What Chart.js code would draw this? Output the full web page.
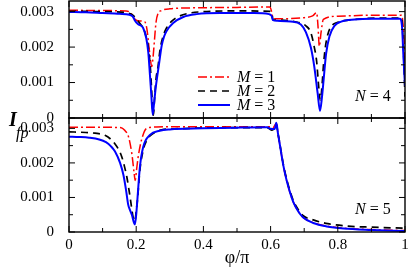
<!DOCTYPE html>
<html><head><meta charset="utf-8">
<script src="https://cdn.jsdelivr.net/npm/chart.js@4/dist/chart.umd.min.js"></script>
<style>
html,body{margin:0;padding:0;background:#fff;}
#wrap{position:relative;width:409px;height:270px;overflow:hidden;background:#fff;}
canvas{position:absolute;left:0;}
#c1{top:0;} #c2{top:114px;}
.lab{position:absolute;font-family:'Liberation Serif','Times New Roman',serif;color:#000;line-height:1;white-space:nowrap;}
</style></head><body>
<div id="wrap">
<canvas id="c1" width="409" height="130"></canvas>
<canvas id="c2" width="409" height="156"></canvas>
<div class="lab" style="left:9px;top:109px;font-size:20px;font-style:italic;font-weight:bold;">I</div>
<div class="lab" style="left:16px;top:125px;font-size:16px;font-style:italic;">fp</div>
</div>
<script>
// ---- tick labels ----
const xTickValues = [0, 0.2, 0.4, 0.6, 0.8, 1];
const xTickLabels = ['0', '0.2', '0.4', '0.6', '0.8', '1'];
const xMinorTicks = [0.1, 0.3, 0.5, 0.7, 0.9];
const yTickValues = [0, 0.001, 0.002, 0.003];
const yTickLabels = ['0', '0.001', '0.002', '0.003'];
const yMinorTicks = [0.0005, 0.0015, 0.0025];
const yMax = 0.0033;
const xTitle = 'φ/π';
const legendLabels = ['M = 1', 'M = 2', 'M = 3'];
const panelLabels = ['N = 4', 'N = 5'];

// ---- N = 4 (top panel) ----
const phiN4M1 = [0, 0.1, 0.17, 0.185, 0.195, 0.205, 0.225, 0.232, 0.238, 0.243, 0.246, 0.25, 0.254, 0.259, 0.265, 0.275, 0.3, 0.4, 0.5, 0.598, 0.603, 0.608, 0.63, 0.7, 0.725, 0.737, 0.741, 0.745, 0.75, 0.757, 0.8, 0.9, 0.99, 0.996, 1.0];
const valN4M1 = [0.00304, 0.00303, 0.00302, 0.00295, 0.0028, 0.00274, 0.00272, 0.0025, 0.002, 0.0016, 0.00145, 0.0017, 0.00215, 0.0027, 0.00295, 0.00303, 0.00308, 0.00311, 0.00312, 0.00313, 0.003, 0.0028, 0.0028, 0.00283, 0.00288, 0.00297, 0.0026, 0.00202, 0.0024, 0.00278, 0.00287, 0.0029, 0.0029, 0.0024, 0.0016];

const phiN4M2 = [0, 0.1, 0.17, 0.19, 0.2, 0.21, 0.22, 0.228, 0.236, 0.243, 0.247, 0.251, 0.255, 0.259, 0.265, 0.271, 0.28, 0.288, 0.306, 0.33, 0.36, 0.4, 0.5, 0.598, 0.603, 0.608, 0.63, 0.68, 0.705, 0.72, 0.73, 0.737, 0.743, 0.748, 0.753, 0.757, 0.763, 0.77, 0.78, 0.8, 0.85, 0.95, 0.99, 0.995, 1.0];
const valN4M2 = [0.00301, 0.003, 0.00297, 0.0029, 0.0028, 0.00268, 0.00255, 0.00235, 0.002, 0.0013, 0.0006, 0.00008, 0.0006, 0.0011, 0.00145, 0.00193, 0.0023, 0.0025, 0.00273, 0.00288, 0.00296, 0.003, 0.00302, 0.00301, 0.00295, 0.00276, 0.00276, 0.0027, 0.0026, 0.0024, 0.002, 0.0016, 0.0009, 0.0005, 0.0009, 0.00145, 0.002, 0.00235, 0.00258, 0.0027, 0.00278, 0.00282, 0.00282, 0.002, 0.0006];

const phiN4M3 = [0, 0.05, 0.1, 0.15, 0.18, 0.19, 0.196, 0.205, 0.22, 0.23, 0.236, 0.241, 0.245, 0.249, 0.253, 0.258, 0.263, 0.269, 0.276, 0.283, 0.29, 0.31, 0.34, 0.38, 0.45, 0.55, 0.595, 0.603, 0.607, 0.62, 0.66, 0.69, 0.705, 0.72, 0.73, 0.74, 0.747, 0.753, 0.758, 0.765, 0.775, 0.79, 0.81, 0.85, 0.9, 0.985, 0.991, 0.995, 1.0];
const valN4M3 = [0.00299, 0.00298, 0.00296, 0.00294, 0.00291, 0.00286, 0.00275, 0.00265, 0.00255, 0.00225, 0.00185, 0.0012, 0.00065, 0.0001, 0.0004, 0.00085, 0.0012, 0.0016, 0.00205, 0.0023, 0.00245, 0.00268, 0.00285, 0.00293, 0.00296, 0.00296, 0.00293, 0.00288, 0.00276, 0.00274, 0.00272, 0.00264, 0.00242, 0.00198, 0.00145, 0.0007, 0.0002, 0.0006, 0.0011, 0.0018, 0.0023, 0.0026, 0.00272, 0.00278, 0.0028, 0.0028, 0.0026, 0.0018, 0.0009];

// ---- N = 5 (bottom panel) ----
const phiN5M1 = [0, 0.1, 0.155, 0.165, 0.177, 0.187, 0.194, 0.197, 0.201, 0.206, 0.216, 0.231, 0.26, 0.35, 0.5, 0.598, 0.607, 0.617, 0.622, 0.628, 0.638, 0.648, 0.658, 0.668, 0.682, 0.697, 0.727, 0.767, 0.817, 0.9, 1.0];
const valN5M1 = [0.00303, 0.00303, 0.00302, 0.00295, 0.00276, 0.00227, 0.00169, 0.00149, 0.0018, 0.00218, 0.00267, 0.003, 0.00304, 0.00305, 0.00305, 0.00305, 0.00302, 0.00314, 0.00285, 0.0025, 0.00192, 0.00148, 0.00113, 0.00086, 0.0006, 0.00042, 0.00027, 0.00017, 0.00011, 0.00007, 0.00004];

const phiN5M2 = [0, 0.05, 0.077, 0.107, 0.125, 0.137, 0.147, 0.157, 0.165, 0.172, 0.182, 0.191, 0.196, 0.2, 0.204, 0.211, 0.221, 0.231, 0.241, 0.276, 0.3, 0.4, 0.5, 0.59, 0.603, 0.612, 0.617, 0.622, 0.628, 0.638, 0.648, 0.658, 0.668, 0.682, 0.697, 0.727, 0.77, 0.83, 0.9, 1.0];
const valN5M2 = [0.0029, 0.00288, 0.00286, 0.0028, 0.00268, 0.00255, 0.0024, 0.00218, 0.0019, 0.0016, 0.001, 0.00042, 0.00032, 0.0006, 0.00095, 0.00179, 0.00238, 0.00265, 0.00278, 0.00296, 0.00298, 0.00301, 0.00302, 0.00302, 0.00295, 0.003, 0.00312, 0.00285, 0.00252, 0.00195, 0.00152, 0.00118, 0.0009, 0.00065, 0.00047, 0.00035, 0.00024, 0.00017, 0.00014, 0.00011];

const phiN5M3 = [0, 0.03, 0.06, 0.09, 0.11, 0.125, 0.137, 0.152, 0.162, 0.17, 0.176, 0.181, 0.187, 0.196, 0.2, 0.204, 0.211, 0.221, 0.241, 0.27, 0.3, 0.4, 0.5, 0.59, 0.6, 0.612, 0.617, 0.622, 0.628, 0.638, 0.648, 0.658, 0.668, 0.682, 0.697, 0.727, 0.767, 0.817, 0.9, 1.0];
const valN5M3 = [0.00276, 0.00275, 0.00273, 0.00268, 0.0026, 0.00248, 0.00233, 0.002, 0.00165, 0.0012, 0.0008, 0.00065, 0.0005, 0.00022, 0.0005, 0.001, 0.00188, 0.00247, 0.00281, 0.00293, 0.00297, 0.003, 0.00302, 0.00303, 0.00299, 0.00298, 0.00316, 0.00285, 0.0025, 0.00192, 0.00148, 0.00114, 0.00086, 0.0006, 0.00042, 0.00026, 0.00016, 0.0001, 0.00006, 0.00003];

// ---- styles ----
const styles = [
  {color:'#ff0000', width:1.5, dash:[9,3,2,3], order:3},
  {color:'#000000', width:1.7, dash:[7,5], order:2},
  {color:'#0000ff', width:2, dash:[], order:1}
];

Chart.defaults.font.family = "'Liberation Serif','Times New Roman',serif";
Chart.defaults.font.size = 15;
Chart.defaults.color = '#000';

function drawVarText(ctx, text, x, y, size) {
  const v = text.charAt(0), rest = text.slice(1);
  ctx.font = 'italic ' + size + "px 'Liberation Serif'";
  ctx.fillText(v, x, y);
  const w = ctx.measureText(v).width;
  ctx.font = size + "px 'Liberation Serif'";
  ctx.fillText(rest, x + w, y);
}

const framePlugin = {
  id: 'frame',
  afterDatasetsDraw(chart, args, opts) {
    const ctx = chart.ctx, a = chart.chartArea, x = chart.scales.x, y = chart.scales.y;
    ctx.save();
    ctx.strokeStyle = '#000';
    ctx.lineWidth = 1;
    ctx.setLineDash([]);
    ctx.beginPath();
    const xt = (v, L) => { const p = x.getPixelForValue(v); ctx.moveTo(p, a.bottom); ctx.lineTo(p, a.bottom - L); ctx.moveTo(p, a.top); ctx.lineTo(p, a.top + L); };
    const yt = (v, L) => { const p = y.getPixelForValue(v); ctx.moveTo(a.left, p); ctx.lineTo(a.left + L, p); ctx.moveTo(a.right, p); ctx.lineTo(a.right - L, p); };
    xTickValues.forEach(v => xt(v, 6));
    xMinorTicks.forEach(v => xt(v, 4));
    yTickValues.forEach(v => yt(v, 6));
    yMinorTicks.forEach(v => yt(v, 4));
    ctx.stroke();
    ctx.lineWidth = 1.4;
    ctx.strokeRect(a.left, a.top, a.right - a.left, a.bottom - a.top);
    ctx.fillStyle = '#000';
    ctx.textBaseline = 'middle';
    ctx.textAlign = 'left';
    if (opts.legend) {
      chart.data.datasets.forEach((ds, i) => {
        const ly = opts.legendY[i];
        ctx.beginPath();
        ctx.strokeStyle = ds.borderColor;
        ctx.lineWidth = ds.borderWidth;
        ctx.setLineDash(ds.borderDash);
        ctx.moveTo(opts.legendX, ly);
        ctx.lineTo(opts.legendX + 32, ly);
        ctx.stroke();
        ctx.setLineDash([]);
        ctx.fillStyle = '#000';
        drawVarText(ctx, legendLabels[i], opts.legendX + 39, ly + 1, 16);
      });
    }
    if (opts.note) drawVarText(ctx, opts.note, opts.noteX, opts.noteY, 16);
    ctx.restore();
  }
};

function makeChart(id, series, o) {
  return new Chart(document.getElementById(id), {
    type: 'line',
    data: { datasets: series.map((s, i) => ({
      label: legendLabels[i],
      data: s.phi.map((p, k) => ({x: p, y: s.val[k]})),
      borderColor: styles[i].color, borderWidth: styles[i].width, borderDash: styles[i].dash,
      order: styles[i].order, pointRadius: 0, fill: false, cubicInterpolationMode: 'monotone'
    })) },
    options: {
      responsive: false, animation: false, devicePixelRatio: 1,
      layout: { padding: { left: 0, right: 4, top: o.padTop, bottom: 0 } },
      plugins: { legend: { display: false }, tooltip: { enabled: false }, frame: o.frame },
      scales: {
        x: {
          type: 'linear', min: 0, max: 1,
          grid: { display: false }, border: { display: false },
          afterBuildTicks: s => { s.ticks = xTickValues.map(v => ({value: v})); },
          ticks: { display: o.showX, padding: -4, autoSkip: false, maxRotation: 0, color: '#000',
                   callback: (v, i) => xTickLabels[i] },
          title: { display: o.showX, text: xTitle, color: '#000', font: { size: 18 }, padding: { top: 0, bottom: 1 } },
          afterFit: s => { s.height = o.xHeight; s.paddingLeft = 0; s.paddingRight = 0; }
        },
        y: {
          type: 'linear', min: 0, max: yMax,
          grid: { display: false }, border: { display: false },
          afterBuildTicks: s => { s.ticks = yTickValues.map(v => ({value: v})); },
          ticks: { padding: 7, autoSkip: false, color: '#000', callback: (v, i) => yTickLabels[i] },
          afterFit: s => { s.width = 69; s.paddingTop = 0; s.paddingBottom = 0; }
        }
      }
    },
    plugins: [framePlugin]
  });
}

makeChart('c1', [
  {phi: phiN4M1, val: valN4M1}, {phi: phiN4M2, val: valN4M2}, {phi: phiN4M3, val: valN4M3}
], { padTop: 1, xHeight: 12, showX: false,
     frame: { legend: true, legendX: 198, legendY: [77, 91, 105], note: panelLabels[0], noteX: 355, noteY: 97 } });

makeChart('c2', [
  {phi: phiN5M1, val: valN5M1}, {phi: phiN5M2, val: valN5M2}, {phi: phiN5M3, val: valN5M3}
], { padTop: 4, xHeight: 38, showX: true,
     frame: { legend: false, note: panelLabels[1], noteX: 355, noteY: 96 } });
</script>
</body></html>
